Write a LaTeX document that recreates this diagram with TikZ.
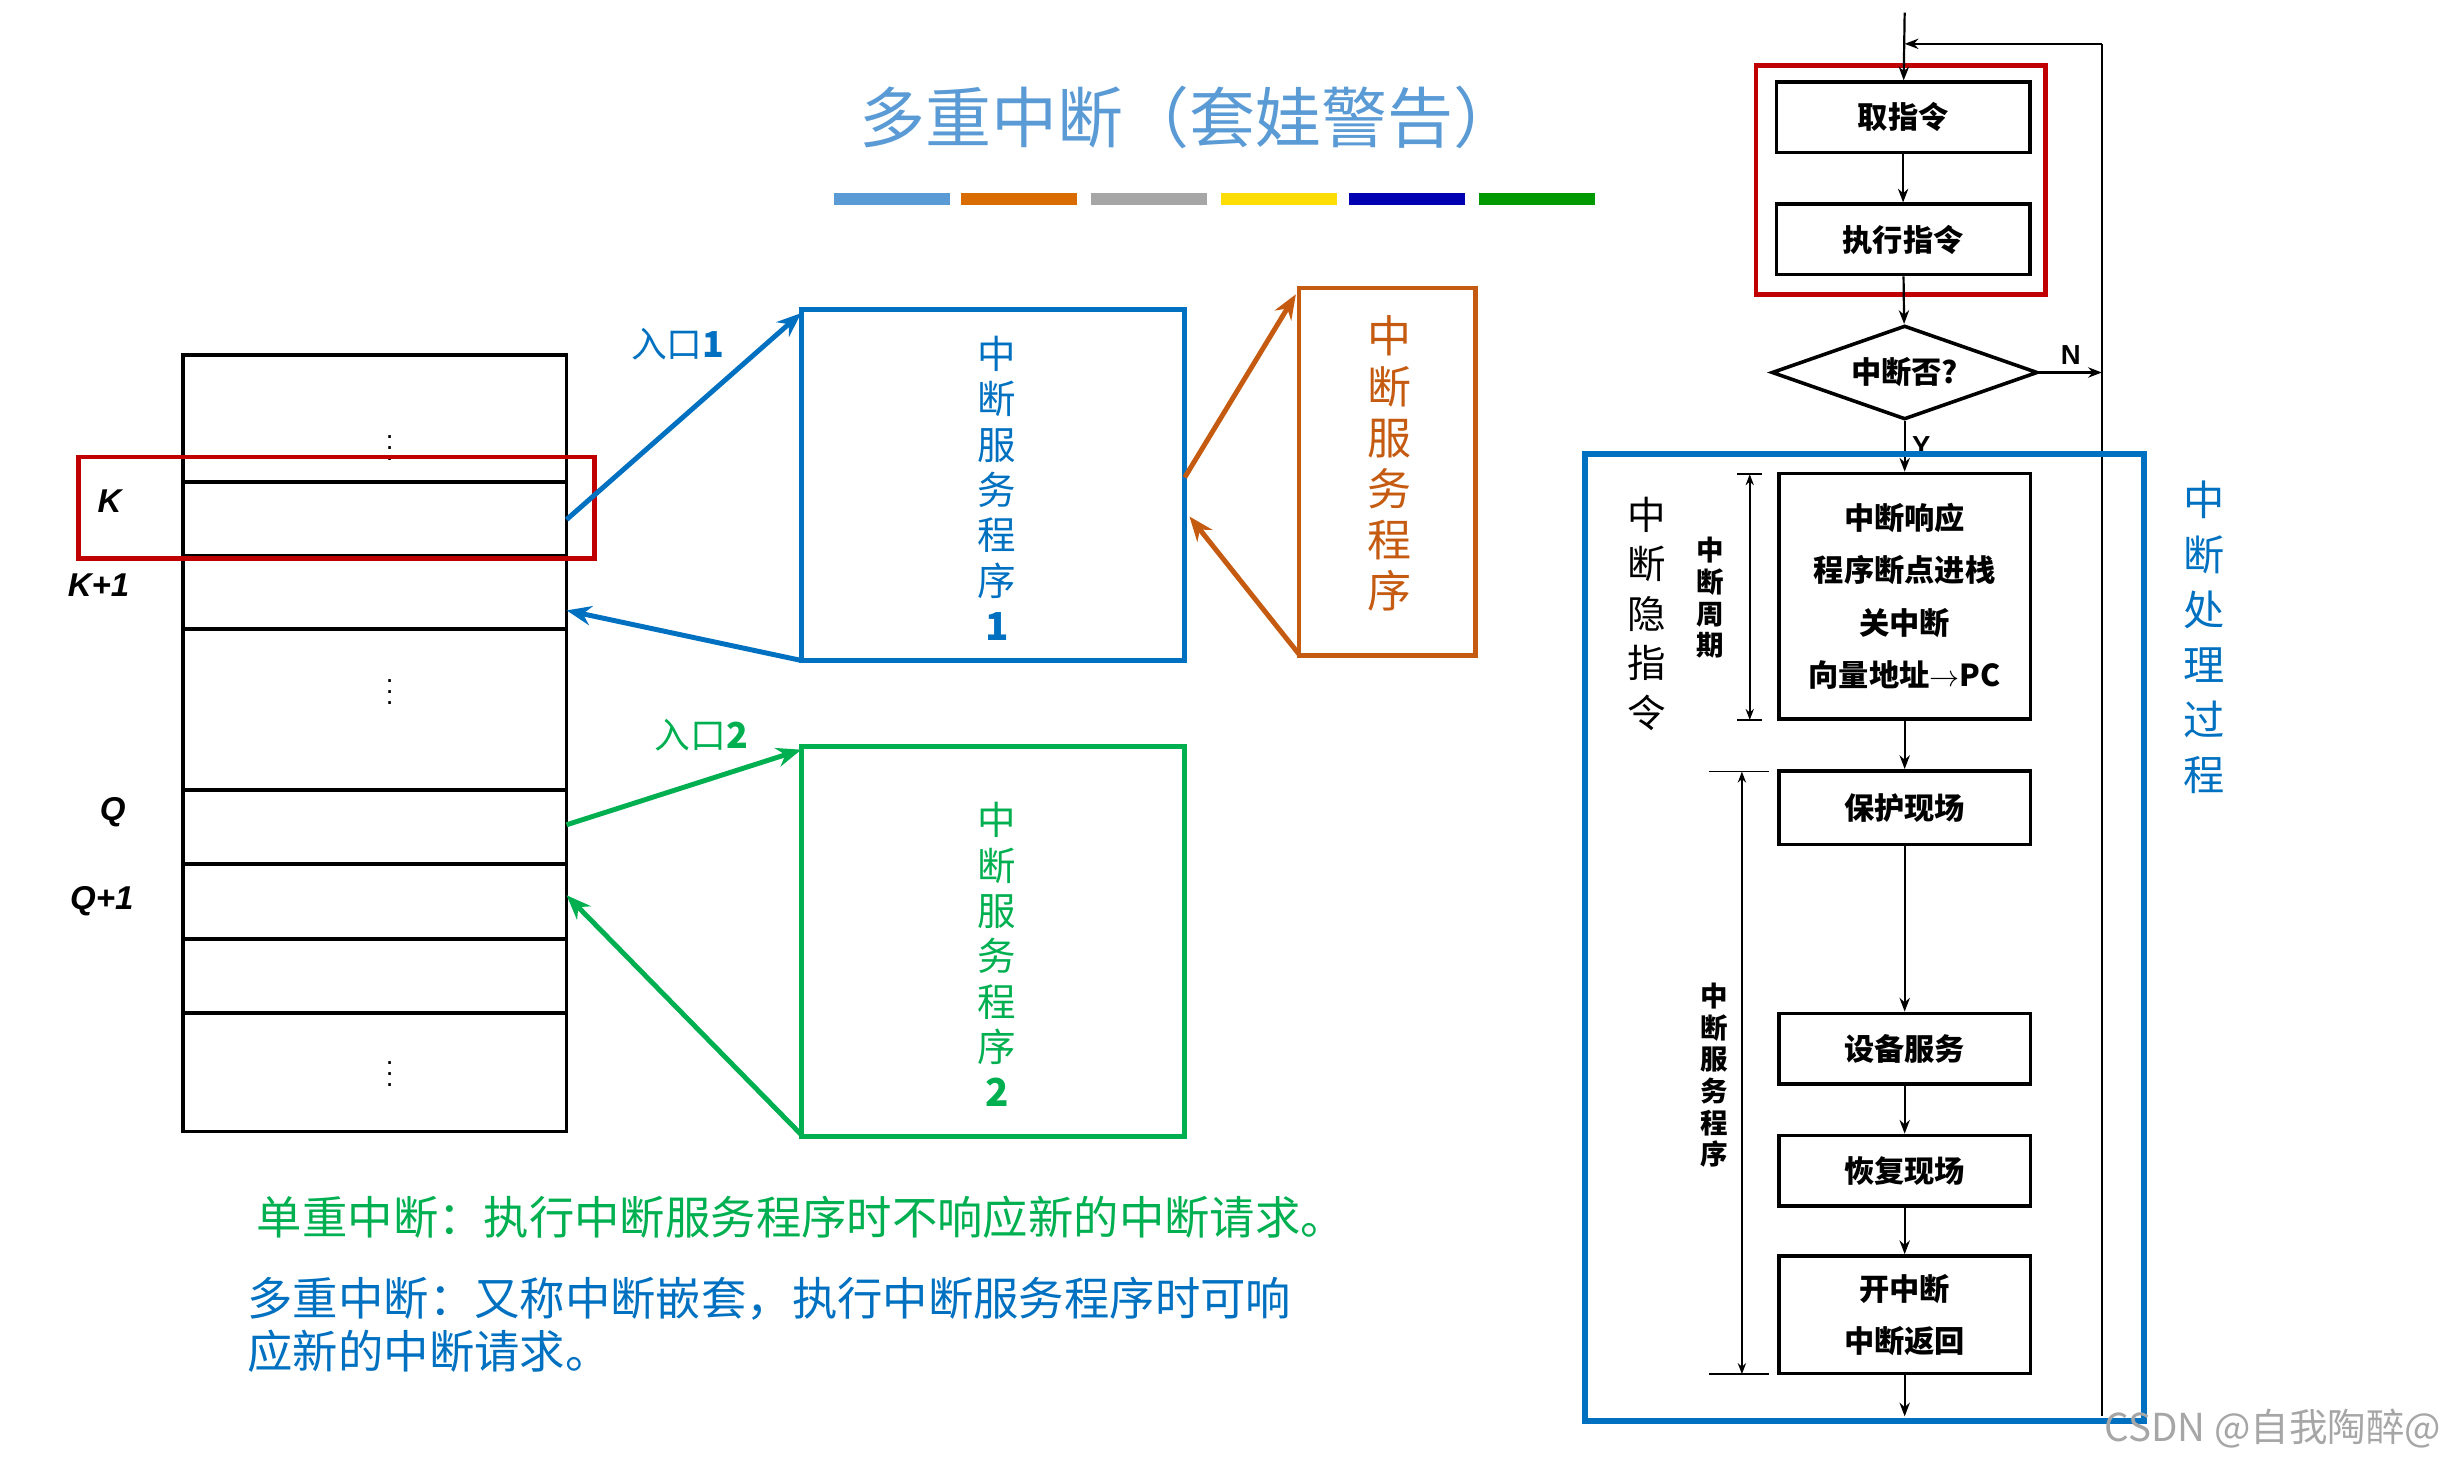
\documentclass[tikz,border=0pt]{standalone}
\usepackage{fontspec}
\setmainfont{Liberation Sans}
\newfontfamily\cjk{Noto Sans CJK SC}
\usetikzlibrary{arrows.meta,shapes.geometric}
\definecolor{tblue}{HTML}{0070C0}
\definecolor{tgreen}{HTML}{00B050}
\definecolor{torange}{HTML}{C55A11}
\definecolor{ttitle}{HTML}{5B9BD5}
\definecolor{tred}{HTML}{C00000}
\begin{document}
\begin{tikzpicture}[x=0.02cm,y=-0.02cm,
  vtext/.style={align=center,font=\cjk\fontsize{14}{16.5}\selectfont},
  fbox/.style={draw=black,line width=1.3pt,font=\cjk\bfseries\fontsize{11}{19}\selectfont,align=center},
  farr/.style={-{Stealth[length=5pt]},line width=0.8pt},
  carr/.style={-{Stealth[length=9pt,width=7pt]},line width=1.8pt},
  lbl/.style={font=\bfseries\itshape\fontsize{12}{14}\selectfont}]
\useasboundingbox (0,0) rectangle (1568,938);
% title
\node[font=\cjk\fontsize{24}{28}\selectfont,text=ttitle] (title) at (760,75) {多重中断（套娃警告）};
\foreach \a/\c in {533/ttitle,614/orange!85!black,697/gray!70,780/yellow!80!orange,862/blue!70!black,945/green!60!black}
  \fill[\c] (\a,123) rectangle ++(74,8);
% stack
\draw[line width=1.4pt] (117,227) rectangle (362,723);
\foreach \yy in {308,355,402,505,552,600,647} \draw[line width=1.4pt] (117,\yy) -- (362,\yy);
\node[inner sep=0pt] (v1) at (249,281) {$\vdots$};
\node[inner sep=0pt] (v2) at (249,437) {$\vdots$};
\node[inner sep=0pt] (v3) at (249,681) {$\vdots$};
\node[lbl] (lk) at (70,320) {K};
\node[lbl] (lk1) at (63,374) {K+1};
\node[lbl] (lq) at (72,519) {Q};
\node[lbl] (lq1) at (65,576) {Q+1};
\draw[tred,line width=1.8pt] (50,292) rectangle (380,357);
\coordinate (k) at (362,332); \coordinate (kr) at (362,390);
\coordinate (q) at (362,527); \coordinate (qr) at (362,572);
% service boxes
\draw[tblue,line width=1.8pt] (512,198) rectangle (757,422);
\node[vtext,text=tblue] (s1) at (637,312) {中\\断\\服\\务\\程\\序\\\textbf{1}};
\draw[torange,line width=1.8pt] (830,184) rectangle (943,419);
\node[vtext,text=torange,font=\cjk\fontsize{16}{18.5}\selectfont] (s3) at (888,296) {中\\断\\服\\务\\程\\序};
\draw[tgreen,line width=1.8pt] (512,477) rectangle (757,726);
\node[vtext,text=tgreen] (s2) at (637,610) {中\\断\\服\\务\\程\\序\\\textbf{2}};
% connectors
\draw[carr,tblue] (k) -- (512,200);
\node[text=tblue,font=\cjk\fontsize{13}{15}\selectfont] (e1) at (433,220) {入口\textbf{1}};
\draw[carr,tblue] (512,422) -- (kr);
\draw[carr,torange] (757,305) -- (828,188);
\draw[carr,torange] (830,418) -- (760,330);
\draw[carr,tgreen] (q) -- (512,479);
\node[text=tgreen,font=\cjk\fontsize{13}{15}\selectfont] (e2) at (448,470) {入口\textbf{2}};
\draw[carr,tgreen] (512,725) -- (qr);
% bottom text
\node[anchor=west,text=tgreen,font=\cjk\fontsize{16.5}{19}\selectfont] (t1) at (158,778) {单重中断：执行中断服务程序时不响应新的中断请求。};
\node[anchor=north west,align=left,text=tblue,font=\cjk\fontsize{16.5}{19}\selectfont] (t2) at (152,810) {多重中断：又称中断嵌套，执行中断服务程序时可响\\应新的中断请求。};
% flowchart
\node[fbox,minimum width=3.24cm,minimum height=0.9cm] (f1) at (1216,75) {取指令};
\node[fbox,minimum width=3.24cm,minimum height=0.9cm] (f2) at (1216,153) {执行指令};
\draw[tred,line width=1.8pt] (1122,42) rectangle (1307,188);
\node[draw,diamond,aspect=2.8,line width=1.3pt,font=\cjk\bfseries\fontsize{11}{13}\selectfont,inner sep=1pt,minimum width=3.4cm,minimum height=1.2cm] (d) at (1217,238) {中断否?};
\node[fbox,minimum width=3.22cm,minimum height=3.14cm] (f3) at (1217,381) {中断响应\\程序断点进栈\\关中断\\向量地址$\to$\textbf{PC}};
\node[fbox,minimum width=3.22cm,minimum height=0.94cm] (f4) at (1217,516) {保护现场};
\node[fbox,minimum width=3.22cm,minimum height=0.9cm] (f5) at (1217,670) {设备服务};
\node[fbox,minimum width=3.22cm,minimum height=0.9cm] (f6) at (1217,748) {恢复现场};
\node[fbox,minimum width=3.22cm,minimum height=1.5cm] (f7) at (1217,840) {开中断\\中断返回};
\coordinate (top) at (1217,8); \coordinate (bot) at (1217,905);
\coordinate (rt) at (1343,28); \coordinate (rb) at (1343,905);
\draw[farr] (top) -- (f1);
\draw[farr] (f1) -- (f2);
\draw[farr] (f2) -- (d);
\draw[farr] (d) -- (f3) node[pos=0.5,right=-1pt,font=\bfseries\fontsize{10}{12}\selectfont] {Y};
\draw[farr] (f3) -- (f4);
\draw[farr] (f4) -- (f5);
\draw[farr] (f5) -- (f6);
\draw[farr] (f6) -- (f7);
\draw[farr] (f7) -- (bot);
\draw[line width=0.8pt] (rb) -- (rt);
\draw[farr] (rt) -- (1217,28);
\draw[farr] (d.east) -- (1343,238) node[pos=0.5,above=-1pt,font=\bfseries\fontsize{10}{12}\selectfont] {N};
% brackets
\draw[{Stealth[length=4pt]}-{Stealth[length=4pt]},line width=0.6pt] (1118,303) -- (1118,460);
\draw[line width=0.6pt] (1110,303) -- (1126,303) (1110,460) -- (1126,460);
\node[align=center,font=\cjk\bfseries\fontsize{10}{11.5}\selectfont] (zq) at (1093,382) {中\\断\\周\\期};
\draw[{Stealth[length=4pt]}-{Stealth[length=4pt]},line width=0.6pt] (1113,493) -- (1113,878);
\draw[line width=0.6pt] (1092,493) -- (1130,493) (1092,878) -- (1130,878);
\node[align=center,font=\cjk\bfseries\fontsize{10}{11.5}\selectfont] (zf) at (1095,687) {中\\断\\服\\务\\程\\序};
\node[vtext,font=\cjk\fontsize{14}{18}\selectfont] (yin) at (1052,392) {中\\断\\隐\\指\\令};
\draw[tblue,line width=2.2pt] (1013,290) rectangle (1370,908);
\node[vtext,text=tblue,font=\cjk\fontsize{15}{20}\selectfont] (cl) at (1408,407) {中\\断\\处\\理\\过\\程};
\node[text=gray!70,font=\cjk\fontsize{14}{16}\selectfont,anchor=east] (csdn) at (1566,913) {CSDN @自我陶醉@};
\end{tikzpicture}
\end{document}
